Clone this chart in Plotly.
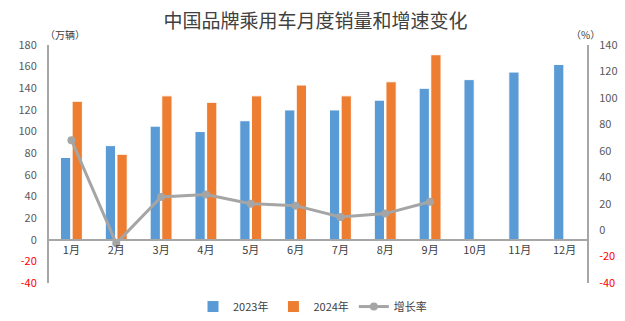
import plotly.graph_objects as go

months = ["1月", "2月", "3月", "4月", "5月", "6月", "7月", "8月", "9月", "10月", "11月", "12月"]
sales_2023 = [76, 87, 105, 100, 110, 120, 120, 129, 140, 148, 155, 162]
sales_2024 = [128, 79, 133, 127, 133, 143, 133, 146, 171, None, None, None]
growth = [68, -10, 25, 27, 20, 18.5, 10, 12.5, 21.5, None, None, None]

left_ticks = list(range(-40, 181, 20))
right_ticks = list(range(-40, 141, 20))

def tick_text(vals):
    return [f"<span style='color:#FF0000'>{v}</span>" if v < 0 else str(v) for v in vals]

FONT = "Noto Sans CJK SC"

fig = go.Figure()
fig.add_trace(go.Bar(x=months, y=sales_2023, name="2023年",
                     marker=dict(color="#5B9BD5", line=dict(color="white", width=1))))
fig.add_trace(go.Bar(x=months, y=sales_2024, name="2024年",
                     marker=dict(color="#ED7D31", line=dict(color="white", width=1))))
fig.add_trace(go.Scatter(x=months, y=growth, name="增长率", yaxis="y2",
                         mode="lines+markers",
                         line=dict(color="#A5A5A5", width=3),
                         marker=dict(color="#A5A5A5", size=8)))

zero_pos = 40 / 220

fig.update_layout(
    width=625, height=321,
    margin=dict(l=49, r=38, t=45, b=38, autoexpand=False),
    paper_bgcolor="white", plot_bgcolor="white",
    font=dict(family=FONT, size=11, color="#595959"),
    title=dict(text="中国品牌乘用车月度销量和增速变化", x=0.505, xanchor="center",
               y=0.935, yanchor="middle",
               font=dict(family=FONT, size=19, color="#404040")),
    barmode="group", bargap=0.48, bargroupgap=0.12,
    showlegend=True,
    legend=dict(orientation="h", x=0.5, xanchor="center", xref="container",
                y=0.045, yanchor="middle", yref="container",
                font=dict(family=FONT, size=11, color="#404040"),
                itemwidth=30, traceorder="normal"),
    xaxis=dict(anchor="free", position=zero_pos, showline=True, linecolor="#A6A6A6",
               linewidth=1.5, ticks="", showgrid=False, zeroline=False, automargin=False,
               range=[-0.5, len(months) - 0.5],
               tickfont=dict(size=11, color="#404040")),
    yaxis=dict(range=[-40, 180], tickvals=left_ticks, ticktext=tick_text(left_ticks),
               showgrid=False, zeroline=False, showline=True, linecolor="#A6A6A6",
               linewidth=2, ticks="", ticklabelstandoff=8, automargin=False),
    yaxis2=dict(range=[-40, 140], tickvals=right_ticks, ticktext=tick_text(right_ticks),
                overlaying="y", side="right", showgrid=False, zeroline=False,
                showline=True, linecolor="#A6A6A6", linewidth=2, ticks="",
                ticklabelstandoff=8, automargin=False),
    annotations=[
        dict(text="（万辆）", xref="paper", yref="paper", x=0.0, y=1.0,
             xanchor="left", yanchor="bottom", showarrow=False,
             font=dict(family=FONT, size=10, color="#404040"), xshift=-6, yshift=1),
        dict(text="（%）", xref="paper", yref="paper", x=1.0, y=1.0,
             xanchor="center", yanchor="bottom", showarrow=False,
             font=dict(family=FONT, size=10, color="#404040"), xshift=-2, yshift=1),
    ],
)

fig.write_html("out.html")
